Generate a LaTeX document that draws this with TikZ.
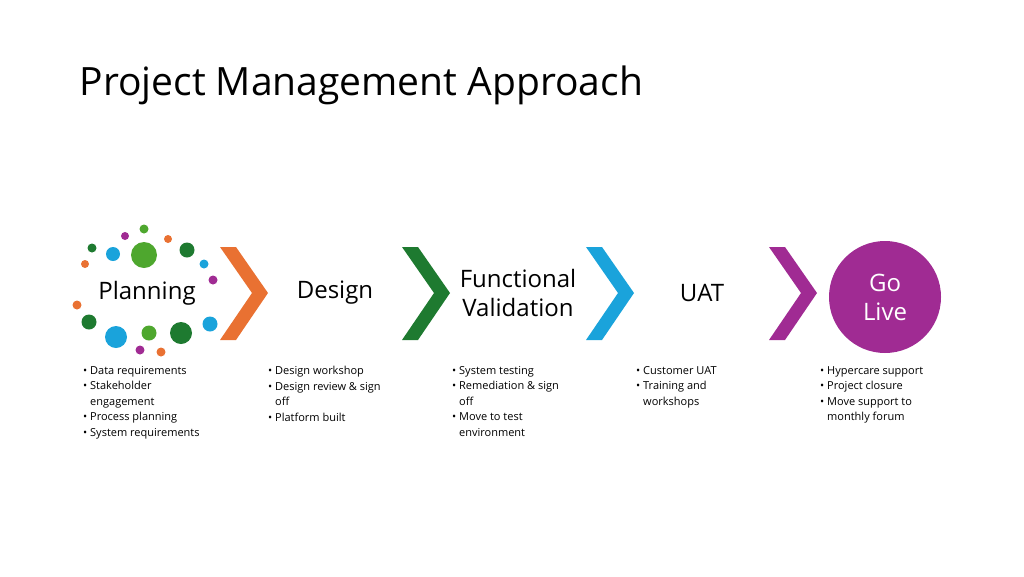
\documentclass[tikz,border=0pt]{standalone}
\usepackage{fontspec}
\setmainfont{Open Sans}
\usetikzlibrary{positioning}
\definecolor{orng}{HTML}{E97132}
\definecolor{dgrn}{HTML}{1E7A30}
\definecolor{lgrn}{HTML}{4EA72E}
\definecolor{blu}{HTML}{1AA3DB}
\definecolor{purp}{HTML}{A02B93}
\newcommand{\chev}[2]{\fill[#2] (#1,247) -- ++(16,0) -- ++(32,46) -- ++(-32,47) -- ++(-16,0) -- ++(32,-47) -- cycle;}
\newcommand{\ringdot}[4]{\fill[#4] (#1,#2) circle (#3);}
\begin{document}
\begin{tikzpicture}[x=1pt,y=-1pt,
stage/.style={font=\fontsize{24}{29}\selectfont,align=center},
notes/.style={anchor=north west,align=left,font=\fontsize{11}{15.5}\selectfont,inner sep=0pt}]
\useasboundingbox (0,0) rectangle (1024,576);

\node[anchor=west,font=\fontsize{39}{44}\selectfont] (title) at (76,85) {Project Management Approach};

% planning ring
\ringdot{144}{229}{4.5}{lgrn} \ringdot{125}{236}{4}{purp} \ringdot{168}{239}{4}{orng}
\ringdot{92}{248}{4.5}{dgrn} \ringdot{113}{254}{7}{blu} \ringdot{144}{255}{13}{lgrn}
\ringdot{187}{250}{7.5}{dgrn} \ringdot{85}{264}{4}{orng} \ringdot{204}{264}{4.5}{blu}
\ringdot{213}{280}{4.5}{purp} \ringdot{77}{305}{4.5}{orng} \ringdot{89}{322}{7.5}{dgrn}
\ringdot{116}{337}{11}{blu} \ringdot{149}{333}{7.5}{lgrn} \ringdot{181}{333}{11}{dgrn}
\ringdot{210}{324}{7.5}{blu} \ringdot{140}{350}{4.5}{purp} \ringdot{161}{352}{4.5}{orng}

% chevrons
\chev{220}{orng}
\chev{402}{dgrn}
\chev{586}{blu}
\chev{769}{purp}

\node[circle,fill=purp,minimum size=112pt] (golive) at (885,297) {};

\node[stage] (plan) at (147,293) {Planning};
\node[stage] (design) at (335,293) {Design};
\node[stage] (func) at (518,293) {Functional\\Validation};
\node[stage] (uat) at (702,293) {UAT};
\node[stage,text=white] (live) at (golive) {Go\\Live};

\node[notes] (n1) at (83,366) {\textbullet\ Data requirements\\\textbullet\ Stakeholder\\\phantom{\textbullet\ }engagement\\\textbullet\ Process planning\\\textbullet\ System requirements};
\node[notes] (n2) at (268,366) {\textbullet\ Design workshop\\\textbullet\ Design review \& sign\\\phantom{\textbullet\ }off\\\textbullet\ Platform built};
\node[notes] (n3) at (452,366) {\textbullet\ System testing\\\textbullet\ Remediation \& sign\\\phantom{\textbullet\ }off\\\textbullet\ Move to test\\\phantom{\textbullet\ }environment};
\node[notes] (n4) at (636,366) {\textbullet\ Customer UAT\\\textbullet\ Training and\\\phantom{\textbullet\ }workshops};
\node[notes] (n5) at (820,366) {\textbullet\ Hypercare support\\\textbullet\ Project closure\\\textbullet\ Move support to\\\phantom{\textbullet\ }monthly forum};
\end{tikzpicture}
\end{document}
